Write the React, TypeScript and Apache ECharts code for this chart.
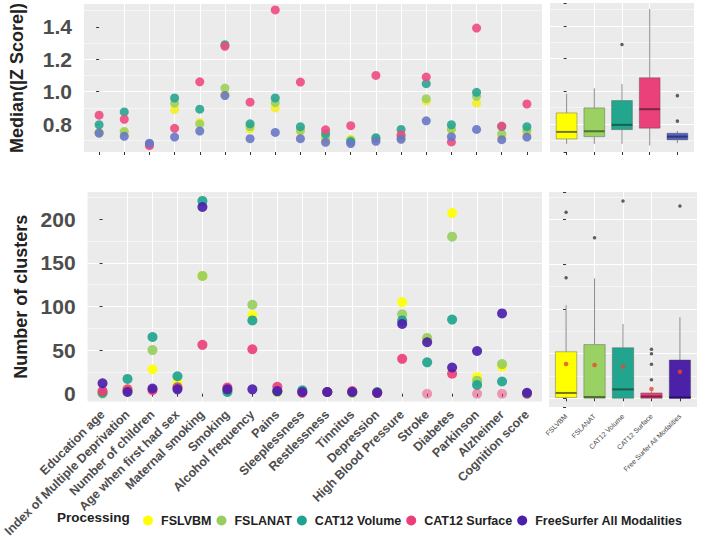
import React, { useEffect, useRef } from "react";
import * as echarts from "echarts";

const categories = [
  "Education age", "Index of Multiple Deprivation", "Number of children", "Age when first had sex",
  "Maternal smoking", "Smoking", "Alcohol frequency", "Pains", "Sleeplessness", "Restlessness",
  "Tinnitus", "Depression", "High Blood Pressure", "Stroke", "Diabetes", "Parkinson", "Alzheimer",
  "Cognition score",
];
const groups = ["FSLVBM", "FSLANAT", "CAT12 Volume", "CAT12 Surface", "FreeSurfer All Modalities"];
const boxLabels = ["FSLVBM", "FSLANAT", "CAT12 Volume", "CAT12 Surface", "Free Surfer All Modalities"];

// Median(|Z score|) per category
const medianFSLVBM = [0.75, 0.75, 0.675, 0.89, 0.81, 0.985, 0.77, 0.9, 0.757, 0.7, 0.708, 0.71, 0.715, 0.943, 0.763, 0.93, 0.725, 0.745];
const medianFSLANAT = [0.745, 0.755, 0.676, 0.929, 0.8, 1.022, 0.785, 0.933, 0.76, 0.72, 0.7, 0.71, 0.725, 0.957, 0.77, 0.971, 0.74, 0.76];
const medianCAT12Volume = [0.796, 0.875, 0.678, 0.961, 0.892, 1.29, 0.802, 0.961, 0.784, 0.741, 0.692, 0.716, 0.767, 1.049, 0.796, 0.996, 0.785, 0.784];
const medianCAT12Surface = [0.855, 0.83, 0.667, 0.774, 1.061, 1.28, 0.935, 1.504, 1.059, 0.765, 0.79, 1.1, 0.733, 1.09, 0.69, 1.392, 0.788, 0.924];
const medianFreeSurfer = [0.745, 0.725, 0.682, 0.72, 0.757, 0.976, 0.71, 0.749, 0.71, 0.688, 0.68, 0.694, 0.706, 0.82, 0.722, 0.767, 0.704, 0.72];

// Number of clusters per category
const clustersFSLVBM = [1, 5, 28, 13, 135, 4, 90, 2, 2, 2, 1, 1, 105, 62, 207, 19, 31, 0];
const clustersFSLANAT = [0, 3, 50, 8, 135, 3, 102, 2, 2, 2, 1, 1, 91, 64, 180, 15, 34, 0];
const clustersCAT12Volume = [1, 17, 65, 20, 221, 2, 84, 3, 4, 2, 2, 2, 84, 36, 85, 10, 14, 0];
const clustersCAT12Surface = [3, 5, 4, 7, 56, 7, 51, 8, 1, 2, 3, 1, 40, 0, 23, 0, 0, 0];
const clustersFreeSurfer = [12, 2, 6, 5, 214, 5, 5, 3, 2, 2, 2, 1, 80, 59, 30, 49, 92, 1];

// Box summaries: [lower whisker, Q1, median, Q3, upper whisker]
const medianBoxes = [
  [0.678, 0.708, 0.751, 0.867, 0.984],
  [0.678, 0.722, 0.755, 0.898, 1.018],
  [0.678, 0.765, 0.794, 0.943, 1.045],
  [0.667, 0.774, 0.89, 1.082, 1.504],
  [0.682, 0.702, 0.722, 0.743, 0.757],
];
const medianOutliers = [[], [], [1.286], [], [0.973, 0.817]];

const clusterBoxes = [
  [0, 1, 6, 52, 104],
  [0, 0, 1.5, 60, 134],
  [0, 0, 10, 56.5, 83],
  [0, 0, 2, 6, 8],
  [0, 0, 1, 42.8, 90.5],
];
const clusterOutliers = [[207.8, 134.7], [179.4], [220.4], [54.7, 49.8, 38, 20.8], [214.9]];
const clusterMeans = [38.3, 37.2, 35.3, 10.4, 29.7];

const medianTicks = [0.8, 1.0, 1.2, 1.4];
const clusterTicks = [0, 50, 100, 150, 200];

const medianSeries = [medianFSLVBM, medianFSLANAT, medianCAT12Volume, medianCAT12Surface, medianFreeSurfer];
const clusterSeries = [clustersFSLVBM, clustersFSLANAT, clustersCAT12Volume, clustersCAT12Surface, clustersFreeSurfer];

const FONT = "'Liberation Sans', Arial, Helvetica, sans-serif";
const topColors = ["#F4EE22", "#9CCF5F", "#27A590", "#EE4A80", "#6977C6"];
const bottomColors = ["#FFFF00", "#97CE5D", "#20A38E", "#EC3F7A", "#4B1FAB"];
const topFills = ["#FFFF00", "#9AD162", "#22A68E", "#EA417B", "#5664BF"];
const bottomFills = ["#FFFF00", "#99D162", "#21A58E", "#E8417A", "#4B21A8"];
const topMedianLine = ["#77771A", "#50702F", "#1A5F52", "#7E2344", "#2F3878"];
const bottomMedianLine = ["#77771A", "#50702F", "#1A5F52", "#7E2344", "#2A1060"];
const PANEL = "#EBEBEB";
const TICK = "#333333";
const LABEL = "#4D4D4D";

function mainY(grid: number, min: number, max: number, ticks: number[] | null, name?: string, fmt?: (v: number) => string) {
  return {
    type: "value", gridIndex: grid, min, max, position: "left",
    name: name || "", nameLocation: "middle", nameGap: 58,
    nameTextStyle: { fontSize: 18, fontWeight: "bold", color: "#222", fontFamily: FONT },
    axisLine: { show: false },
    axisTick: { show: true, length: 3, lineStyle: { color: TICK }, customValues: ticks || undefined },
    axisLabel: ticks
      ? { show: true, customValues: ticks, margin: 12, fontSize: 21, fontWeight: "bold", color: LABEL, fontFamily: FONT, formatter: fmt }
      : { show: false },
    splitLine: { show: true, showMinLine: false, showMaxLine: false, lineStyle: { color: "#FFFFFF", width: 1.1 } },
  };
}
function minorY(grid: number, min: number, max: number, step: number) {
  return {
    type: "value", gridIndex: grid, min, max, position: "left", minInterval: step, maxInterval: step,
    axisLine: { show: false }, axisTick: { show: false }, axisLabel: { show: false },
    splitLine: { show: true, showMinLine: false, showMaxLine: false, lineStyle: { color: "#FFFFFF", width: 0.55 } },
  };
}
function catX(grid: number, n: number, labels: string[] | null, labelStyle: any) {
  const idx = Array.from({ length: n }, (_, i) => i);
  return {
    type: "value", gridIndex: grid, min: -0.6, max: n - 0.4, minInterval: 1, maxInterval: 1,
    axisLine: { show: false },
    axisTick: { show: true, length: 3, lineStyle: { color: TICK }, customValues: idx },
    axisLabel: labels
      ? { show: true, customValues: idx, rotate: 45, align: "right", verticalAlign: "middle", fontFamily: FONT, ...labelStyle,
          formatter: (v: number) => labels[Math.round(v)] ?? "" }
      : { show: false },
    splitLine: { show: true, showMinLine: false, showMaxLine: false, lineStyle: { color: "#FFFFFF", width: 1.1 } },
  };
}

function boxRenderer(fills: string[], medLines: string[]) {
  return (params: any, api: any) => {
    const i = params.dataIndex;
    const x = api.value(0);
    const lo = api.coord([x, api.value(1)]);
    const q1 = api.coord([x, api.value(2)]);
    const med = api.coord([x, api.value(3)]);
    const q3 = api.coord([x, api.value(4)]);
    const hi = api.coord([x, api.value(5)]);
    const w = api.size([0.75, 0])[0];
    const cx = lo[0];
    return {
      type: "group",
      children: [
        { type: "line", shape: { x1: cx, y1: hi[1], x2: cx, y2: q3[1] }, style: { stroke: "#8E8E8E", lineWidth: 1 } },
        { type: "line", shape: { x1: cx, y1: q1[1], x2: cx, y2: lo[1] }, style: { stroke: "#8E8E8E", lineWidth: 1 } },
        { type: "rect", shape: { x: cx - w / 2, y: q3[1], width: w, height: q1[1] - q3[1] },
          style: { fill: fills[i], stroke: "rgba(70,70,70,0.55)", lineWidth: 0.7 } },
        { type: "line", shape: { x1: cx - w / 2, y1: med[1], x2: cx + w / 2, y2: med[1] },
          style: { stroke: medLines[i], lineWidth: 2 } },
      ],
    };
  };
}

function buildOption() {
  const series: any[] = [];
  medianSeries.forEach((arr, g) => {
    series.push({
      type: "scatter", name: groups[g], xAxisIndex: 0, yAxisIndex: 0, symbolSize: 9,
      itemStyle: { color: topColors[g], opacity: 0.9 },
      data: arr.map((v, i) => [i, v]),
    });
  });
  clusterSeries.forEach((arr, g) => {
    series.push({
      type: "scatter", name: groups[g], xAxisIndex: 2, yAxisIndex: 4, symbolSize: 10,
      itemStyle: { color: bottomColors[g], opacity: 0.92 },
      data: arr.map((v, i) => (v === 0 ? { value: [i, v], itemStyle: { opacity: 0.5 } } : [i, v])),
    });
  });
  series.push({
    type: "custom", xAxisIndex: 1, yAxisIndex: 2, renderItem: boxRenderer(topFills, topMedianLine),
    encode: { x: 0, y: [1, 2, 3, 4, 5] }, data: medianBoxes.map((b, i) => [i, ...b]), z: 3,
  });
  series.push({
    type: "scatter", xAxisIndex: 1, yAxisIndex: 2, symbolSize: 3.5, itemStyle: { color: "#3A3A3A" }, z: 4,
    data: medianOutliers.flatMap((o, i) => o.map((v) => [i, v])),
  });
  series.push({
    type: "custom", xAxisIndex: 3, yAxisIndex: 6, renderItem: boxRenderer(bottomFills, bottomMedianLine),
    encode: { x: 0, y: [1, 2, 3, 4, 5] }, data: clusterBoxes.map((b, i) => [i, ...b]), z: 3,
  });
  series.push({
    type: "scatter", xAxisIndex: 3, yAxisIndex: 6, symbolSize: 3.5, itemStyle: { color: "#3A3A3A" }, z: 4,
    data: clusterOutliers.flatMap((o, i) => o.map((v) => [i, v])),
  });
  series.push({
    type: "scatter", xAxisIndex: 3, yAxisIndex: 6, symbolSize: 4.5, itemStyle: { color: "#E8462E" }, z: 5,
    data: clusterMeans.map((v, i) => [i, v]),
  });

  return {
    animation: false,
    textStyle: { fontFamily: FONT },
    grid: [
      { left: 82, top: 3, width: 460, height: 149, show: true, backgroundColor: PANEL, borderWidth: 0 },
      { left: 550, top: 3, width: 144, height: 149, show: true, backgroundColor: PANEL, borderWidth: 0 },
      { left: 82, top: 192, width: 460, height: 211, show: true, backgroundColor: PANEL, borderWidth: 0 },
      { left: 549, top: 192, width: 148, height: 215, show: true, backgroundColor: PANEL, borderWidth: 0 },
    ],
    xAxis: [
      catX(0, categories.length, null, {}),
      catX(1, boxLabels.length, null, {}),
      catX(2, categories.length, categories, { fontSize: 12.5, fontWeight: "bold", color: LABEL, margin: 11 }),
      catX(3, boxLabels.length, boxLabels, { fontSize: 7, color: "#444", margin: 8 }),
    ],
    yAxis: [
      mainY(0, 0.628, 1.54, medianTicks, "Median(|Z Score|)", (v: number) => v.toFixed(1)),
      minorY(0, 0.528, 1.44, 0.2),
      mainY(1, 0.628, 1.54, null),
      minorY(1, 0.528, 1.44, 0.2),
      mainY(2, -8.9, 231.2, clusterTicks, "Number of clusters", (v: number) => String(v)),
      minorY(2, -33.9, 206.2, 50),
      mainY(3, -9.7, 230.5, null),
      minorY(3, -34.7, 205.5, 50),
    ],
    legend: {
      left: 138, top: 509, itemWidth: 16, itemHeight: 10, itemGap: 5, icon: "circle",
      data: groups.map((g, i) => ({ name: g, itemStyle: { color: bottomColors[i], opacity: 1 } })),
      textStyle: { fontSize: 12.5, fontWeight: "bold", color: "#222", fontFamily: FONT },
      selectedMode: false,
    },
    graphic: [
      { type: "text", left: 57, top: 510, style: { text: "Processing", fontSize: 13.5, fontWeight: "bold", fill: "#222", fontFamily: FONT } },
    ],
    series,
  };
}

export default function App() {
  const ref = useRef<HTMLDivElement>(null);
  useEffect(() => {
    const chart = echarts.init(ref.current!, null, { renderer: "svg" });
    chart.setOption(buildOption() as any);
    return () => chart.dispose();
  }, []);
  return <div ref={ref} style={{ position: "absolute", left: 0, top: 0, width: 709, height: 540, background: "#fff" }} />;
}
